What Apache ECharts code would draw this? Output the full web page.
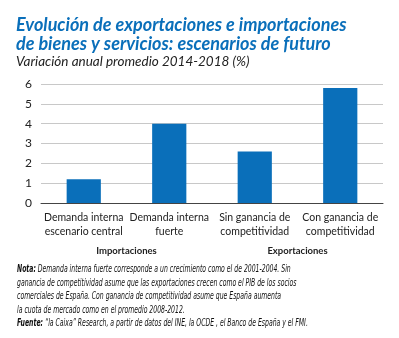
<!DOCTYPE html>
<html><head><meta charset="utf-8">
<script src="https://cdn.jsdelivr.net/npm/echarts@6/dist/echarts.min.js"></script>
<style>html,body{margin:0;padding:0;background:#fff}#c{width:399px;height:338px}</style>
</head><body><div id="c"></div>
<script>
const categories = ['Demanda interna\nescenario central', 'Demanda interna\nfuerte', 'Sin ganancia de\ncompetitividad', 'Con ganancia de\ncompetitividad'];
const groups = ['Importaciones', 'Exportaciones'];
const values = [1.2, 4.0, 2.6, 5.8];
const yTicks = [0, 1, 2, 3, 4, 5, 6];
const titleLines = ['Evolución de exportaciones e importaciones', 'de bienes y servicios: escenarios de futuro'];
const subtitle = 'Variación anual promedio 2014-2018 (%)';
const noteLines = [
  ['Nota:', ' Demanda interna fuerte corresponde a un crecimiento como el de 2001-2004. Sin'],
  ['', 'ganancia de competitividad asume que las exportaciones crecen como el PIB de los socios'],
  ['', 'comerciales de España. Con ganancia de competitividad asume que España aumenta'],
  ['', 'la cuota de mercado como en el promedio 2008-2012.'],
  ['Fuente:', ' “la Caixa” Research, a partir de datos del INE, la OCDE , el Banco de España y el FMI.']
];

const chart = echarts.init(document.getElementById('c'), null, {renderer: 'canvas'});
const noteFont = '"Liberation Sans Narrow", "DejaVu Sans Condensed", sans-serif';
const ff = 'Lato, "Open Sans", sans-serif';
const graphics = [];
titleLines.forEach((t, i) => graphics.push({
  type: 'text', x: 16, y: 16 + i * 19,
  style: {text: t, font: 'italic bold 18px ' + ff, fill: '#0a6fba'}
}));
graphics.push({type: 'text', x: 16, y: 55, style: {text: subtitle, font: 'italic 13.5px ' + ff, fill: '#222'}});
noteLines.forEach((l, i) => graphics.push({
  type: 'text', x: 17, y: 264 + i * 13.5, scaleX: 0.65, originX: 0,
  style: {
    text: (l[0] ? '{b|' + l[0] + '}' : '') + '{n|' + l[1] + '}',
    rich: {
      b: {font: 'italic bold 10.5px ' + noteFont, fill: '#111'},
      n: {font: 'italic 10.5px ' + noteFont, fill: '#111'}
    }
  }
}));

chart.setOption({
  animation: false,
  backgroundColor: '#fff',
  grid: {left: 41, right: 16, top: 84, bottom: 135, containLabel: false},
  xAxis: [{
    type: 'category', data: categories,
    axisLine: {lineStyle: {color: '#444', width: 1}},
    axisTick: {inside: true, length: 4, lineStyle: {color: '#444'}},
    axisLabel: {color: '#222', fontSize: 10.5, fontFamily: ff, lineHeight: 13.5, margin: 8, interval: 0}
  }, {
    type: 'category', data: groups, position: 'bottom', offset: 35,
    axisLine: {show: false}, axisTick: {show: false},
    axisLabel: {color: '#222', fontSize: 9.5, fontWeight: 'bold', fontFamily: ff, interval: 0}
  }],
  yAxis: {
    type: 'value', min: 0, max: 6, interval: 1,
    axisLine: {show: false}, axisTick: {show: false},
    splitLine: {lineStyle: {color: '#c8c8c8', width: 1}},
    axisLabel: {color: '#222', fontSize: 12, fontFamily: ff, margin: 9,
      formatter: v => yTicks.includes(v) ? String(v) : ''}
  },
  series: [{
    type: 'bar', data: values, barWidth: '40%', xAxisIndex: 0,
    itemStyle: {color: '#0a6fba'}
  }],
  graphic: graphics
});
</script></body></html>
